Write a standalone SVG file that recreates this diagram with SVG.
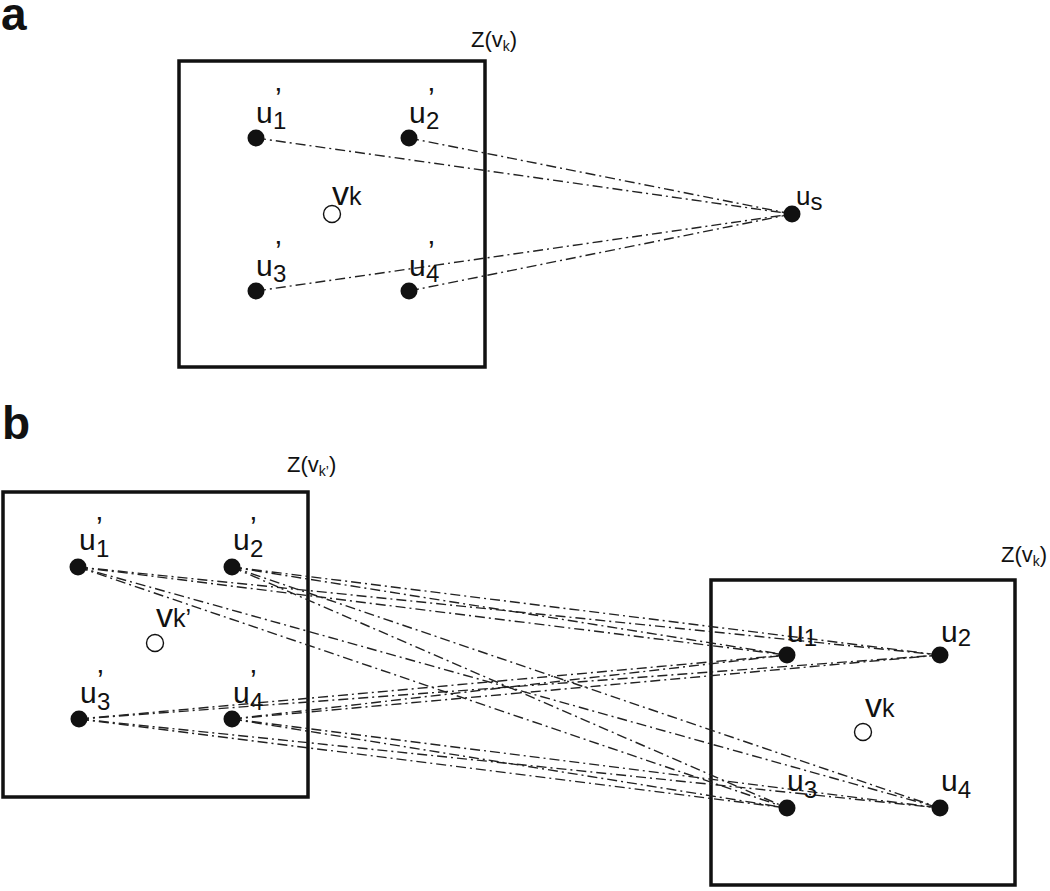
<svg xmlns="http://www.w3.org/2000/svg" width="1050" height="891" viewBox="0 0 1050 891">
<style>
text{font-family:"Liberation Sans",Arial,sans-serif;fill:#111}
.lbl{font-size:30px}
.sub{font-size:24px}
.pr{font-size:30px}
.v{font-size:34px}
.vs{font-size:25px}
.z{font-size:22px}
.zs{font-size:14px}
.panel{font-size:46px;font-weight:bold}
.box{fill:none;stroke:#111;stroke-width:3.5}
.dot{fill:#111}
.open{fill:#fff;stroke:#111;stroke-width:1.4}
.conn line{stroke:#222;stroke-width:1.4;stroke-dasharray:10 4 2 4;fill:none}
</style>
<rect width="1050" height="891" fill="#fff"/>
<text class="panel" x="1" y="30">a</text>
<text class="panel" x="2" y="439">b</text>

<g id="zoneA">
<rect class="box" x="179" y="61" width="306" height="306"/>
<text class="z" x="471" y="47">Z(v<tspan class="zs" y="51">k</tspan><tspan y="47">)</tspan></text>
</g>
<g id="zoneBleft">
<rect class="box" x="3" y="492" width="305" height="305"/>
<text class="z" x="287" y="472">Z(v<tspan class="zs" y="476">k’</tspan><tspan y="472">)</tspan></text>
</g>
<g id="zoneBright">
<rect class="box" x="711" y="580" width="304" height="305"/>
<text class="z" x="1001" y="562">Z(v<tspan class="zs" y="566">k</tspan><tspan y="562">)</tspan></text>
</g>

<g id="connectors" class="conn">
<line x1="256" y1="138" x2="792" y2="214"/>
<line x1="409" y1="138" x2="792" y2="214"/>
<line x1="256" y1="291" x2="792" y2="214"/>
<line x1="409" y1="291" x2="792" y2="214"/>
<line x1="78" y1="567" x2="787" y2="655"/>
<line x1="78" y1="567" x2="940" y2="655"/>
<line x1="78" y1="567" x2="787" y2="808"/>
<line x1="78" y1="567" x2="940" y2="808"/>
<line x1="232" y1="567" x2="787" y2="655"/>
<line x1="232" y1="567" x2="940" y2="655"/>
<line x1="232" y1="567" x2="787" y2="808"/>
<line x1="232" y1="567" x2="940" y2="808"/>
<line x1="79" y1="719" x2="787" y2="655"/>
<line x1="79" y1="719" x2="940" y2="655"/>
<line x1="79" y1="719" x2="787" y2="808"/>
<line x1="79" y1="719" x2="940" y2="808"/>
<line x1="232" y1="719" x2="787" y2="655"/>
<line x1="232" y1="719" x2="940" y2="655"/>
<line x1="232" y1="719" x2="787" y2="808"/>
<line x1="232" y1="719" x2="940" y2="808"/>
</g>

<!-- panel a nodes -->
<g id="a_u1p"><circle class="dot" cx="256" cy="138" r="8.5"/><text class="lbl" x="256" y="123">u<tspan class="pr" x="275" y="108">’</tspan><tspan class="sub" x="273" y="129">1</tspan></text></g>
<g id="a_u2p"><circle class="dot" cx="409" cy="138" r="8.5"/><text class="lbl" x="409" y="123">u<tspan class="pr" x="428" y="108">’</tspan><tspan class="sub" x="426" y="129">2</tspan></text></g>
<g id="a_vk"><circle class="open" cx="332" cy="214" r="8.5"/><text class="v" x="332" y="205">v<tspan class="vs">k</tspan></text></g>
<g id="a_u3p"><circle class="dot" cx="256" cy="291" r="8.5"/><text class="lbl" x="256" y="276">u<tspan class="pr" x="275" y="261">’</tspan><tspan class="sub" x="273" y="282">3</tspan></text></g>
<g id="a_u4p"><circle class="dot" cx="409" cy="291" r="8.5"/><text class="lbl" x="409" y="276">u<tspan class="pr" x="428" y="261">’</tspan><tspan class="sub" x="426" y="282">4</tspan></text></g>
<g id="a_us"><circle class="dot" cx="792" cy="214" r="8.5"/><text style="font-size:26px" x="796" y="205">u<tspan style="font-size:24px" y="210">s</tspan></text></g>

<!-- panel b left nodes -->
<g id="b_u1p"><circle class="dot" cx="78" cy="567" r="8.5"/><text class="lbl" x="79" y="550">u<tspan class="pr" x="96" y="537">’</tspan><tspan class="sub" x="96" y="557">1</tspan></text></g>
<g id="b_u2p"><circle class="dot" cx="232" cy="567" r="8.5"/><text class="lbl" x="233" y="550">u<tspan class="pr" x="250" y="537">’</tspan><tspan class="sub" x="250" y="557">2</tspan></text></g>
<g id="b_vkp"><circle class="open" cx="155" cy="643" r="8.5"/><text class="v" x="156" y="627">v<tspan class="vs">k’</tspan></text></g>
<g id="b_u3p"><circle class="dot" cx="79" cy="719" r="8.5"/><text class="lbl" x="80" y="703">u<tspan class="pr" x="97" y="690">’</tspan><tspan class="sub" x="97" y="710">3</tspan></text></g>
<g id="b_u4p"><circle class="dot" cx="232" cy="719" r="8.5"/><text class="lbl" x="233" y="703">u<tspan class="pr" x="250" y="690">’</tspan><tspan class="sub" x="250" y="710">4</tspan></text></g>

<!-- panel b right nodes -->
<g id="b_u1"><circle class="dot" cx="787" cy="655" r="8.5"/><text class="lbl" x="787" y="642">u<tspan class="sub" y="646">1</tspan></text></g>
<g id="b_u2"><circle class="dot" cx="940" cy="655" r="8.5"/><text class="lbl" x="941" y="642">u<tspan class="sub" y="646">2</tspan></text></g>
<g id="b_vk"><circle class="open" cx="863" cy="732" r="8.5"/><text class="v" x="865" y="717">v<tspan class="vs">k</tspan></text></g>
<g id="b_u3"><circle class="dot" cx="787" cy="808" r="8.5"/><text class="lbl" x="787" y="791">u<tspan class="sub" y="798">3</tspan></text></g>
<g id="b_u4"><circle class="dot" cx="940" cy="808" r="8.5"/><text class="lbl" x="941" y="791">u<tspan class="sub" y="798">4</tspan></text></g>
</svg>
